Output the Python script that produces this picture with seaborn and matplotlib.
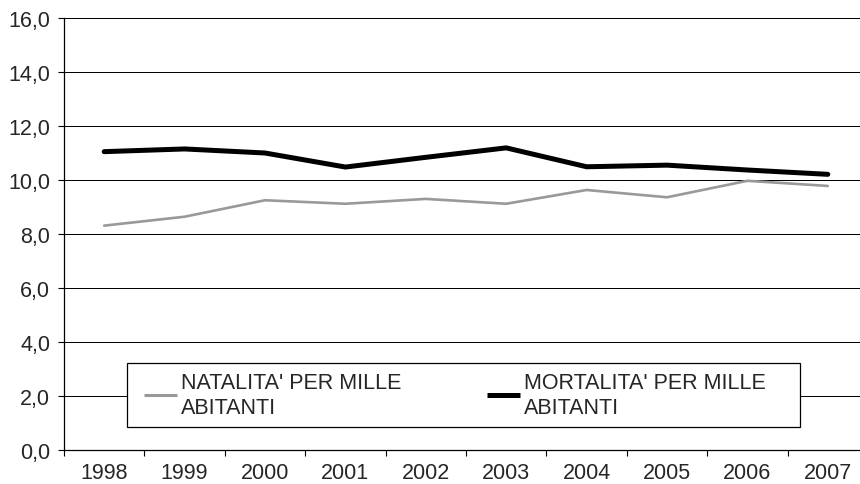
import pandas as pd
import matplotlib
matplotlib.use("Agg")
import matplotlib.pyplot as plt
import matplotlib.patches as mpatches
import seaborn as sns

# --- data ---
years = ["1998", "1999", "2000", "2001", "2002", "2003", "2004", "2005", "2006", "2007"]
natalita = [8.31, 8.64, 9.25, 9.12, 9.30, 9.12, 9.63, 9.36, 9.97, 9.78]
mortalita = [11.05, 11.15, 11.00, 10.48, 10.84, 11.19, 10.49, 10.55, 10.37, 10.21]
label_nat = "NATALITA' PER MILLE\nABITANTI"
label_mort = "MORTALITA' PER MILLE\nABITANTI"
y_ticks = [0, 2, 4, 6, 8, 10, 12, 14, 16]

sns.set_style("white")
plt.rcParams['font.family'] = ['Liberation Sans', 'DejaVu Sans']
fs = 15.5

df = pd.DataFrame({'pos': list(range(len(years))),
                   'nat': natalita,
                   'mort': mortalita})

fig = plt.figure(figsize=(8.6, 4.85), dpi=100)
ax = fig.add_axes([64 / 860, 34 / 485, 804 / 860, 432 / 485])

# gridlines
for v in y_ticks:
    ax.axhline(v, color='black', lw=0.72, zorder=1)

sns.lineplot(data=df, x='pos', y='nat', color='#999999', lw=1.9, ax=ax,
             label=label_nat, zorder=3)
sns.lineplot(data=df, x='pos', y='mort', color='black', lw=3.6, ax=ax,
             label=label_mort, zorder=3)

ax.set_xlim(-0.5, len(years) - 0.5)
ax.set_ylim(0, 16)
ax.set_xlabel('')
ax.set_ylabel('')

# y axis
ax.set_yticks(y_ticks)
ax.set_yticklabels([f"{v:.1f}".replace('.', ',') for v in y_ticks], fontsize=fs)
ax.tick_params(axis='y', direction='out', length=4, width=0.8, color='black', pad=6, left=True)

# x axis: labels at categories, tick marks at boundaries
ax.set_xticks(range(len(years)))
ax.set_xticklabels(years, fontsize=fs)
ax.set_xticks([i - 0.5 for i in range(len(years) + 1)], minor=True)
ax.tick_params(axis='x', which='major', length=0, pad=8.5)
ax.tick_params(axis='x', which='minor', direction='out', length=4.3, width=0.8,
               color='black', bottom=True)

for side in ['top', 'right']:
    ax.spines[side].set_visible(False)
for side in ['left', 'bottom']:
    ax.spines[side].set_color('black')
    ax.spines[side].set_linewidth(0.9)
    ax.spines[side].set_zorder(4)

# legend frame drawn as a separate box (axes coords), legend content without frame
box = mpatches.Rectangle(((127 - 64) / 804, (451 - 428) / 432), 673 / 804, 64 / 432,
                         transform=ax.transAxes, facecolor='white', edgecolor='black',
                         lw=0.9, zorder=4, clip_on=False)
ax.add_patch(box)

leg = ax.legend(loc='center left', bbox_to_anchor=(144 / 860, (485 - 396) / 485),
                bbox_transform=fig.transFigure, ncol=2, frameon=False,
                fontsize=fs, handlelength=1.55, handletextpad=0.15,
                columnspacing=4.0, borderpad=0, borderaxespad=0)
leg.set_zorder(5)
for h in leg.get_lines():
    h.set_solid_capstyle('butt')
leg.get_lines()[0].set_linewidth(2.2)
leg.get_lines()[1].set_linewidth(3.6)

plt.savefig('out.png', dpi=100)
